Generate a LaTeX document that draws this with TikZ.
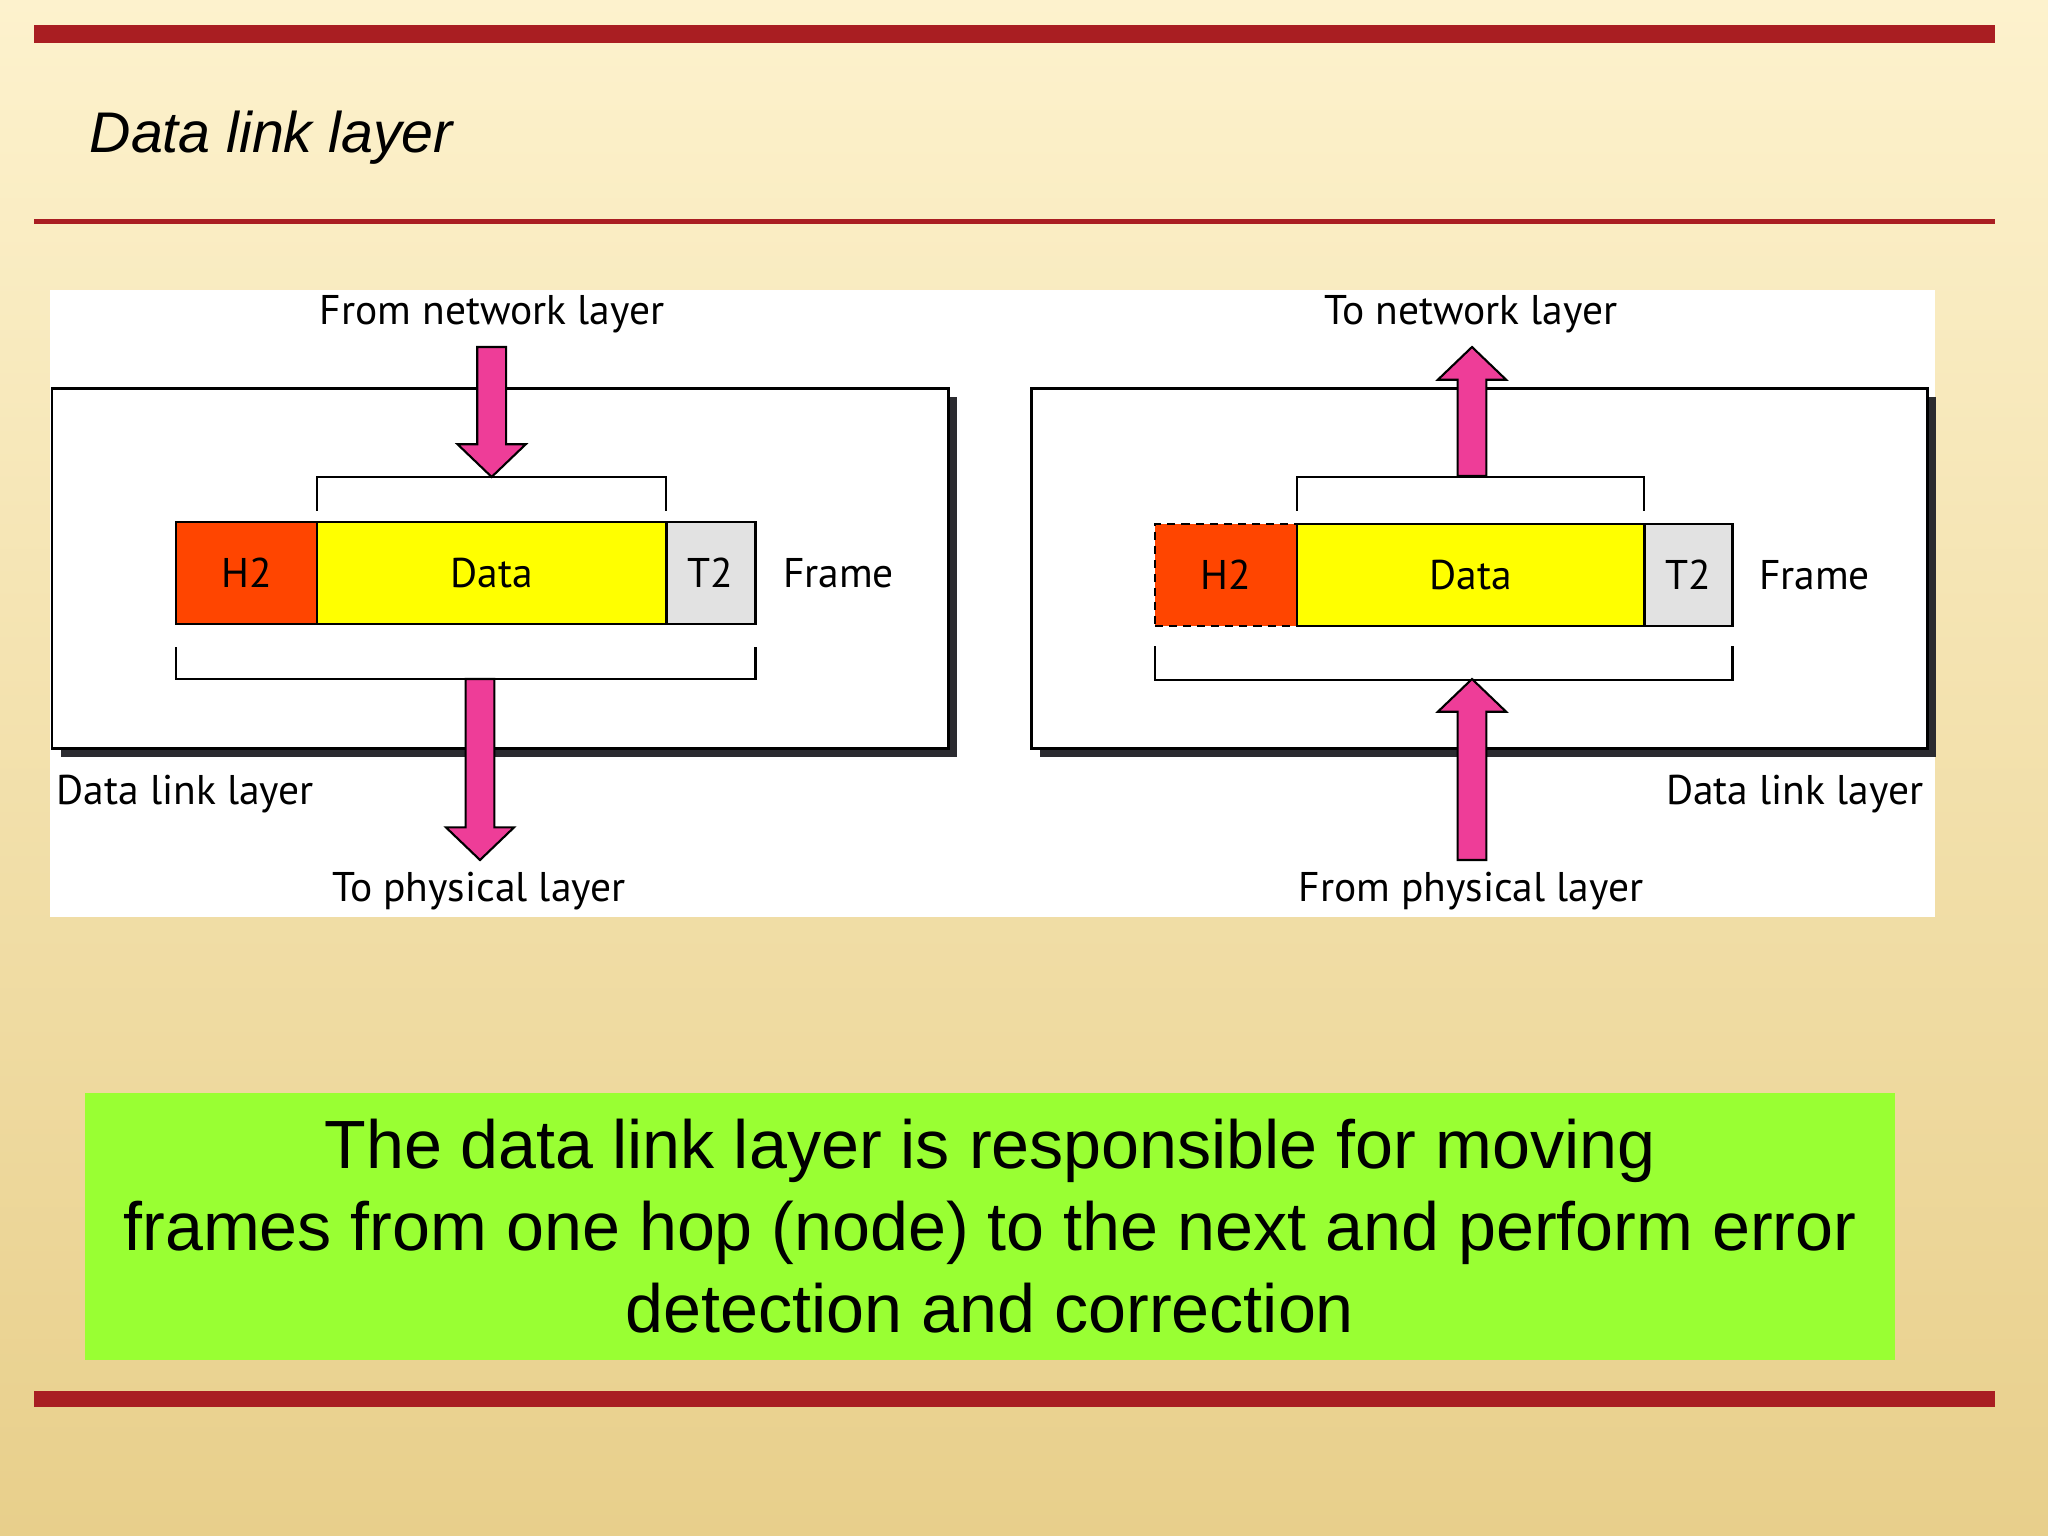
\documentclass[tikz,border=0pt]{standalone}
\usepackage{fontspec}
\setmainfont{Liberation Sans}
\newfontfamily\figfont{PT Sans}
\usetikzlibrary{positioning,calc}
\definecolor{bgtop}{HTML}{FDF2CD}
\definecolor{bgbot}{HTML}{E8CF8B}
\definecolor{barred}{HTML}{A91E22}
\definecolor{arrowpink}{HTML}{EE3D98}
\definecolor{hdrorange}{HTML}{FF4500}
\definecolor{datayellow}{HTML}{FFFF00}
\definecolor{trlgray}{HTML}{E2E2E2}
\definecolor{notegreen}{HTML}{99FF33}
\definecolor{shadowgray}{HTML}{2B2B30}
\tikzset{
	cell/.style={draw, line width=0.8pt, inner sep=0pt, outer sep=0pt, minimum height=1.02cm, font=\figfont\fontsize{11.8}{14}\selectfont},
	bracket/.style={line width=0.7pt},
	layerbox/.style={draw, line width=0.85pt, fill=white},
	lbl/.style={font=\figfont\fontsize{11.8}{14}\selectfont, inner sep=0pt},
	pinkarr/.style={draw, line width=0.6pt, fill=arrowpink, line join=miter}
}
\newcommand{\pinkarrow}[3]{%
	\draw[pinkarr] let \p1=(#1), \p2=(#2) in
		(\x1-4.1pt,\y1) -- (\x1+4.1pt,\y1) -- (\x1+4.1pt,\y2#3) -- (\x1+9.7pt,\y2#3)
		-- (\x1,\y2) -- (\x1-9.7pt,\y2#3) -- (\x1-4.1pt,\y2#3) -- cycle;}

\begin{document}
\begin{tikzpicture}[x=0.01cm, y=-0.01cm]
	\useasboundingbox (0,0) rectangle (2048,1536);
	\shade[top color=bgtop, bottom color=bgbot] (0,0) rectangle (2048,1536);
	\fill[barred] (34,25) rectangle (1995,43);
	\fill[barred] (34,219) rectangle (1995,224);
	\fill[barred] (34,1391) rectangle (1995,1407);
	\node[anchor=base west, inner sep=0pt, font=\itshape\fontsize{16.3}{20}\selectfont] (title) at (89,152) {Data link layer};
	\fill[white] (50,290) rectangle (1935,917);

	% sending side
	\fill[shadowgray] (61,397) rectangle (957,757);
	\draw[layerbox] (52,388) rectangle (948,748);
	\node[cell, fill=hdrorange, minimum width=1.41cm] (h2L) at (246.5,573) {H2};
	\node[cell, fill=datayellow, minimum width=3.49cm, right=0pt of h2L] (dataL) {Data};
	\node[cell, fill=trlgray, minimum width=0.89cm, right=0pt of dataL] (t2L) {T2};
	\node[lbl, right=0.27cm of t2L] (frameL) {Frame};
	\draw[bracket] ([yshift=0.11cm]dataL.north west) -- ++(0,-34) -| ([yshift=0.11cm]dataL.north east);
	\draw[bracket] ([yshift=-0.23cm]h2L.south west) -- ++(0,32) -| ([yshift=-0.23cm]t2L.south east);
	\coordinate (brtopL) at ([yshift=0.45cm]dataL.north);
	\coordinate (intailL) at (brtopL |- 0,347);
	\coordinate (brbotL) at (480,679);
	\coordinate (outtipL) at (480,860);
	\node[lbl, anchor=base] (fromnet) at (492,324) {From network layer};
	\node[lbl, anchor=base] (tophys) at (479,901) {To physical layer};
	\node[lbl, anchor=base west] (dllL) at (56,804) {Data link layer};
	\pinkarrow{intailL}{brtopL}{+9.3pt}
	\pinkarrow{brbotL}{outtipL}{+9.3pt}

	% receiving side
	\fill[shadowgray] (1040,397) rectangle (1936,757);
	\draw[layerbox] (1031,388) rectangle (1927,748);
	\node[cell, fill=hdrorange, dashed, dash pattern=on 2.3pt off 1.7pt, minimum width=1.42cm] (h2R) at (1226,575) {H2};
	\node[cell, fill=datayellow, minimum width=3.47cm, right=0pt of h2R] (dataR) {Data};
	\node[cell, fill=trlgray, minimum width=0.88cm, right=0pt of dataR] (t2R) {T2};
	\node[lbl, right=0.26cm of t2R] (frameR) {Frame};
	\draw[bracket] ([yshift=0.13cm]dataR.north west) -- ++(0,-34) -| ([yshift=0.13cm]dataR.north east);
	\draw[bracket] ([yshift=-0.2cm]h2R.south west) -- ++(0,34) -| ([yshift=-0.2cm]t2R.south east);
	\coordinate (brtopR) at (1472,476);
	\coordinate (uptipR) at (1472,347);
	\coordinate (brbotR) at (1472,679);
	\coordinate (intailR) at (1472,860);
	\node[lbl, anchor=base] (tonet) at (1471,324) {To network layer};
	\node[lbl, anchor=base] (fromphys) at (1471,901) {From physical layer};
	\node[lbl, anchor=base east] (dllR) at (1924,804) {Data link layer};
	\pinkarrow{brtopR}{uptipR}{-9.3pt}
	\pinkarrow{intailR}{brbotR}{-9.3pt}

	\node[fill=notegreen, minimum width=18.08cm, minimum height=2.67cm, inner sep=0pt, align=center, font=\fontsize{19.4}{23.3}\selectfont] (note) at (990,1226.5)
		{The data link layer is responsible for moving\\frames from one hop (node) to the next and perform error\\detection and correction};
\end{tikzpicture}
\end{document}
